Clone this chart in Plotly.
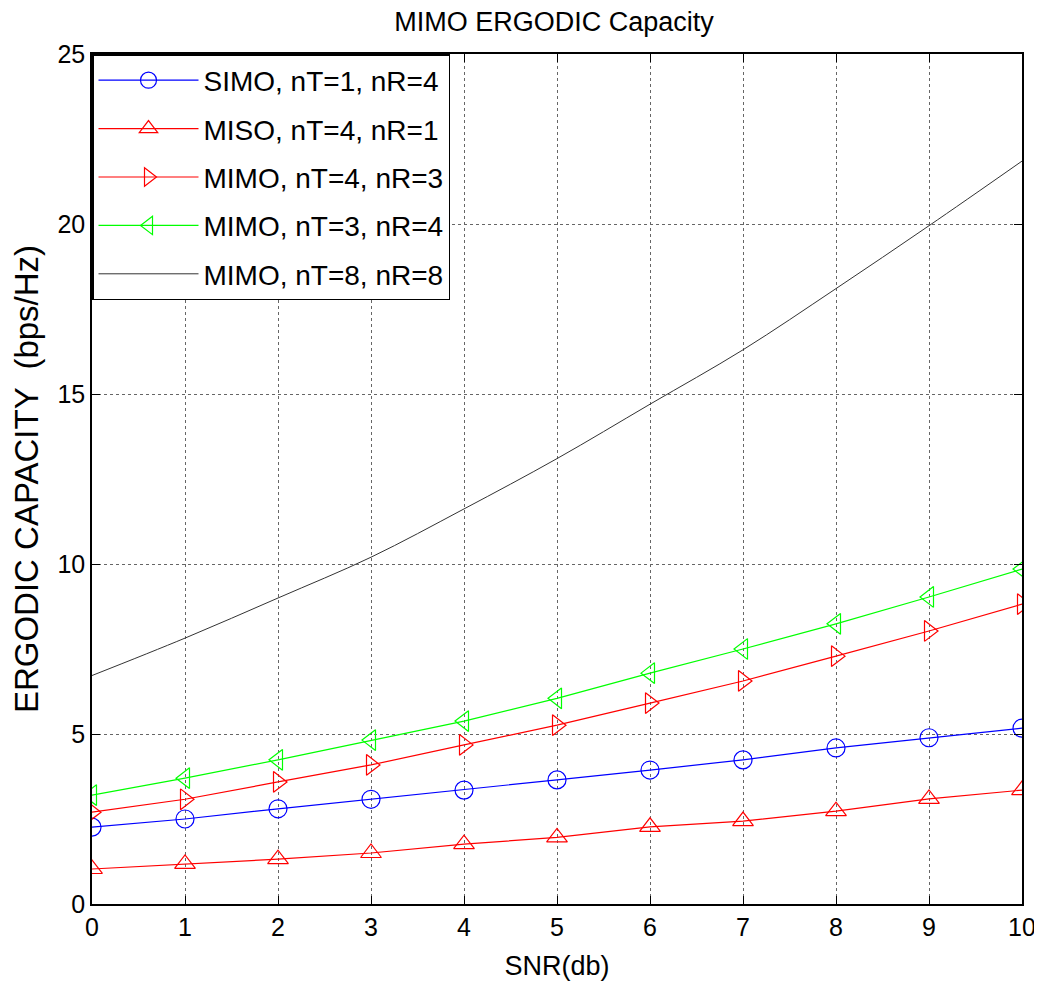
import plotly.graph_objects as go

snr = [0, 1, 2, 3, 4, 5, 6, 7, 8, 9, 10]
simo_1x4 = [2.26, 2.50, 2.80, 3.08, 3.35, 3.65, 3.94, 4.24, 4.59, 4.89, 5.17]
miso_4x1 = [1.03, 1.18, 1.32, 1.50, 1.76, 1.96, 2.27, 2.44, 2.73, 3.09, 3.35]
mimo_4x3 = [2.70, 3.08, 3.59, 4.09, 4.68, 5.26, 5.91, 6.56, 7.29, 8.03, 8.82]
mimo_3x4 = [3.20, 3.70, 4.24, 4.82, 5.38, 6.05, 6.79, 7.50, 8.24, 9.03, 9.85]
mimo_8x8 = [6.72, 7.82, 9.00, 10.20, 11.62, 13.10, 14.70, 16.30, 18.10, 19.95, 21.85]

x_ticks = [0, 1, 2, 3, 4, 5, 6, 7, 8, 9, 10]
y_ticks = [0, 5, 10, 15, 20, 25]

fig = go.Figure()
mk = 18
fig.add_trace(go.Scatter(x=snr, y=simo_1x4, mode="lines+markers", name="SIMO, nT=1, nR=4", legendgroup="a",
                         line=dict(color="#0000ff", width=1.2),
                         marker=dict(symbol="circle-open", size=mk, color="#0000ff", line=dict(width=1.2))))
fig.add_trace(go.Scatter(x=snr, y=miso_4x1, mode="lines+markers", name="MISO, nT=4, nR=1", legendgroup="b",
                         line=dict(color="#ff0000", width=1.2),
                         marker=dict(symbol="triangle-up-open", size=mk, color="#ff0000", line=dict(width=1.2))))
fig.add_trace(go.Scatter(x=snr, y=mimo_4x3, mode="lines+markers", name="MIMO, nT=4, nR=3", legendgroup="c",
                         line=dict(color="#ff0000", width=1.2),
                         marker=dict(symbol="triangle-right-open", size=mk, color="#ff0000", line=dict(width=1.2))))
fig.add_trace(go.Scatter(x=snr, y=mimo_3x4, mode="lines+markers", name="MIMO, nT=3, nR=4", legendgroup="d",
                         line=dict(color="#00ff00", width=1.2),
                         marker=dict(symbol="triangle-left-open", size=mk, color="#00ff00", line=dict(width=1.2))))
fig.add_trace(go.Scatter(x=snr, y=mimo_8x8, mode="lines", name="MIMO, nT=8, nR=8", legendgroup="e",
                         line=dict(color="#333333", width=1, shape="spline")))

axis_common = dict(
    showline=True, linecolor="black", linewidth=1.5, mirror="ticks",
    ticks="inside", ticklen=8, tickcolor="black",
    showgrid=True, gridcolor="#666666", griddash="dot", gridwidth=1,
    zeroline=False, automargin=False, ticklabeloverflow="allow",
    tickfont=dict(size=25, color="black", family="Liberation Sans"),
)

W, H = 1034, 978
fig.update_layout(
    width=W, height=H,
    paper_bgcolor="white", plot_bgcolor="white",
    margin=dict(l=84, r=20, t=46, b=82),
    font=dict(family="Liberation Sans", color="black"),
    title=dict(text="MIMO ERGODIC Capacity", x=546 / W, xanchor="center", y=1 - 14 / H, yanchor="middle",
               font=dict(size=27, color="black")),
    xaxis=dict(range=[0, 10], tickvals=x_ticks, title=dict(text="SNR(db)", font=dict(size=27), standoff=16),
               **axis_common),
    yaxis=dict(range=[0, 25], tickvals=y_ticks, title=dict(text="ERGODIC CAPACITY  (bps/Hz)", font=dict(size=33), standoff=17),
               **axis_common),
    legend=dict(x=0, y=1, xanchor="left", yanchor="top", bgcolor="white",
                bordercolor="black", borderwidth=1.5, font=dict(size=28, color="black"),
                tracegroupgap=9, itemwidth=100),
    showlegend=True,
)

fig.write_html("out.html")
